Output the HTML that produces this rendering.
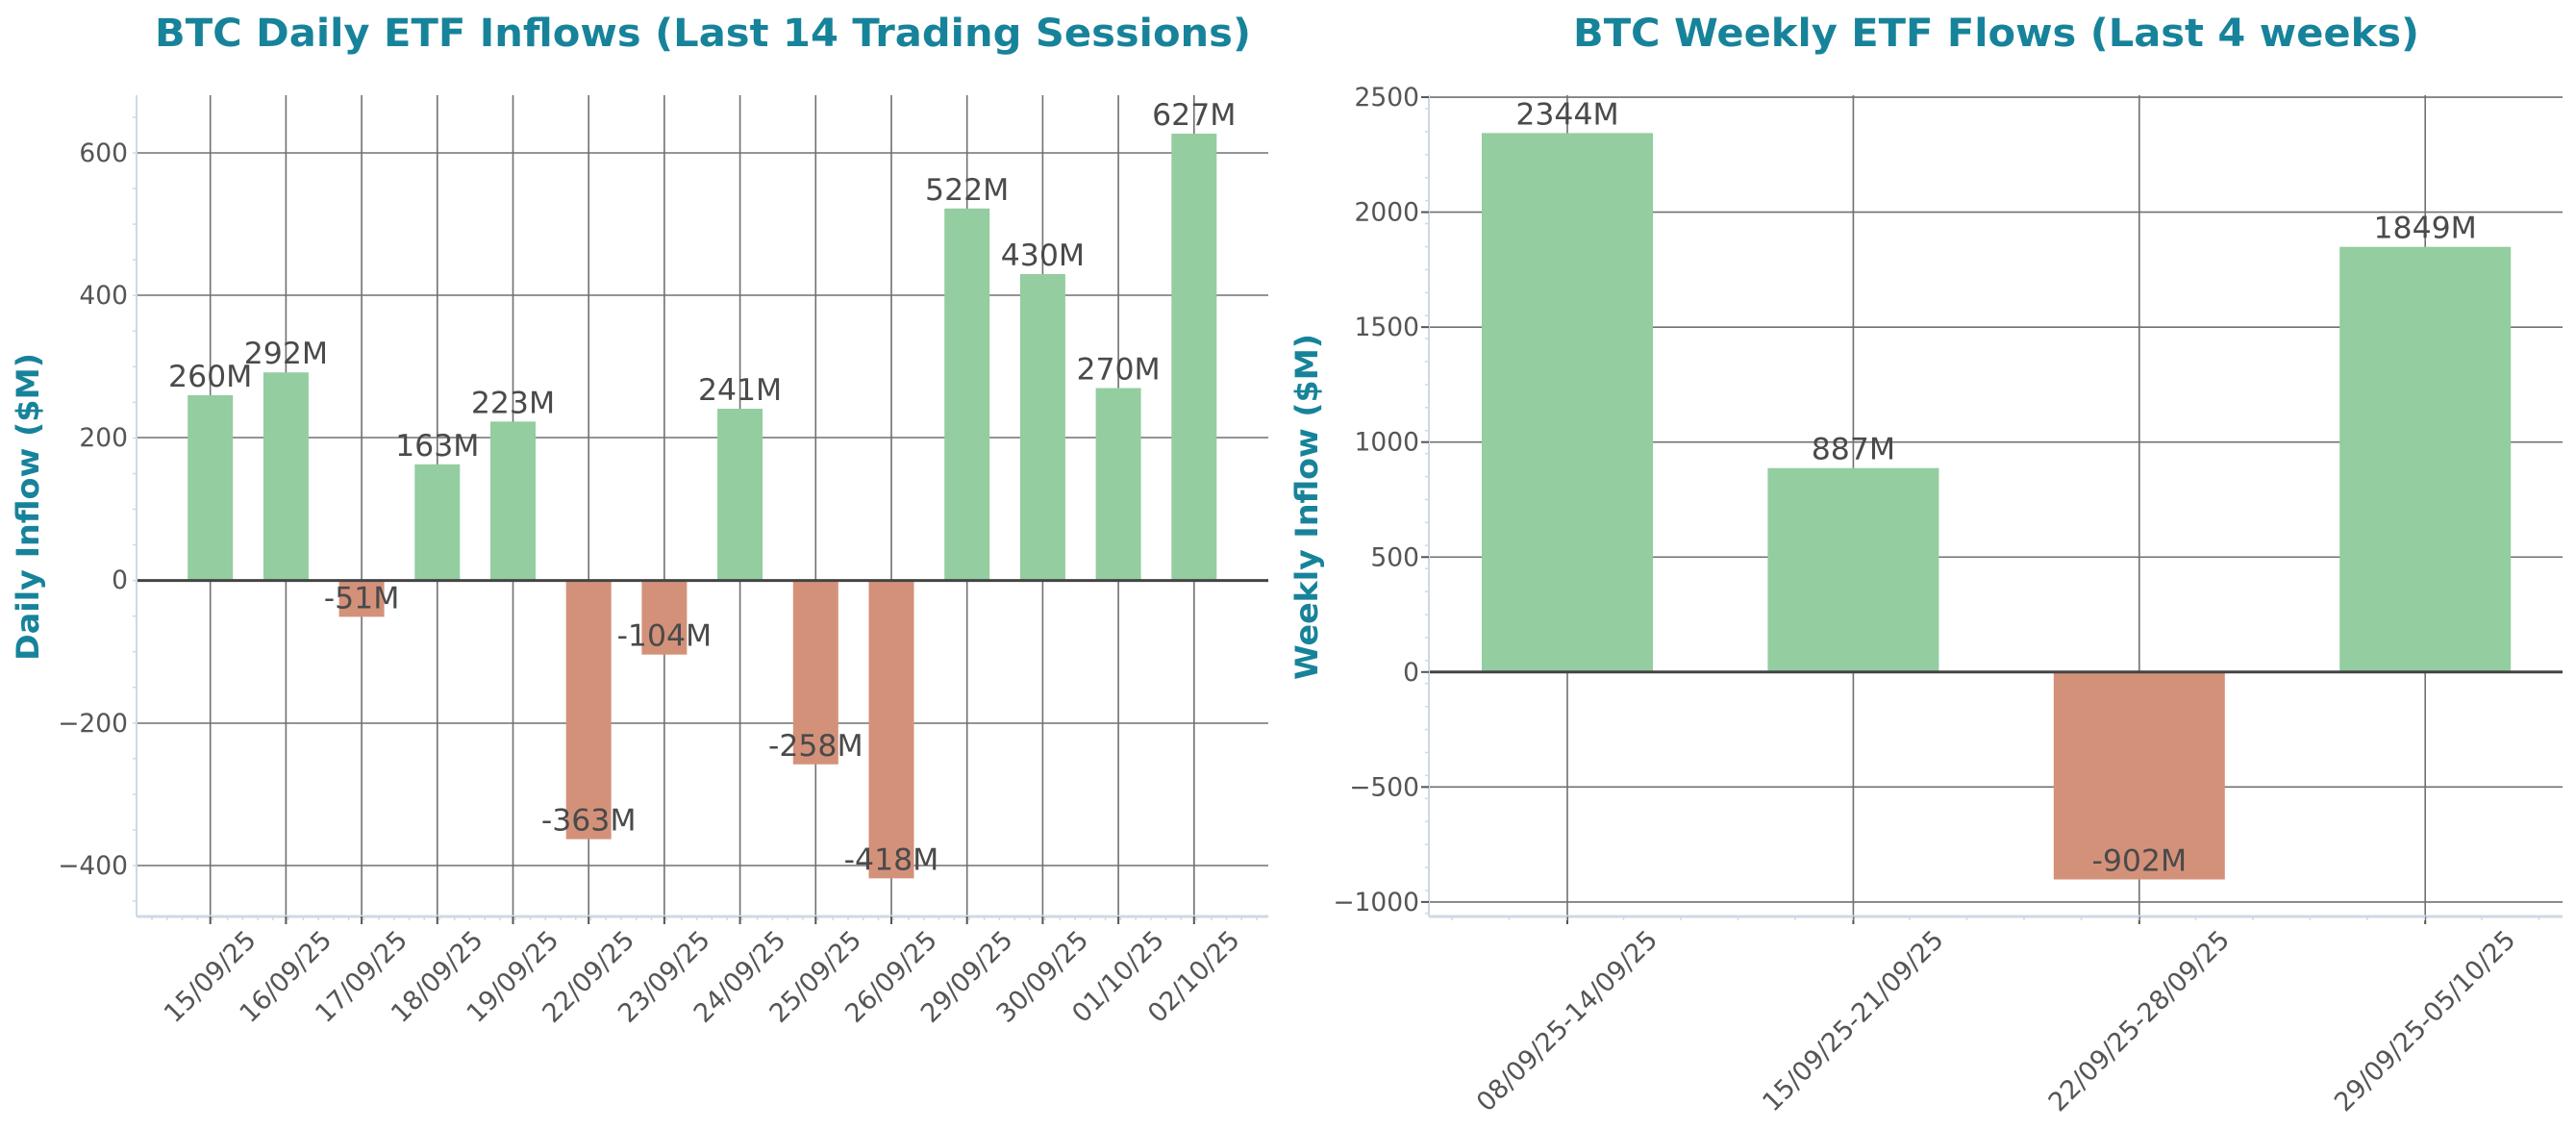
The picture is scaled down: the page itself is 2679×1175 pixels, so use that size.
<!DOCTYPE html>
<html><head><meta charset="utf-8"><style>
html,body{margin:0;padding:0;background:#fff;}
svg{display:block;font-family:"DejaVu Sans","Liberation Sans",sans-serif;}
</style></head><body>
<svg width="2679" height="1175" viewBox="0 0 2679 1175" xmlns="http://www.w3.org/2000/svg">
<!-- LEFT CHART -->
<text x="731" y="48" text-anchor="middle" font-size="40" font-weight="bold" fill="#17839a" textLength="1140" lengthAdjust="spacingAndGlyphs">BTC Daily ETF Inflows (Last 14 Trading Sessions)</text>
<text transform="translate(40,527) rotate(-90)" text-anchor="middle" font-size="32" font-weight="bold" fill="#17839a" textLength="320" lengthAdjust="spacingAndGlyphs">Daily Inflow ($M)</text>
<g stroke="#707070" stroke-width="1.6">
<line x1="142" x2="1319" y1="159" y2="159"/><line x1="142" x2="1319" y1="307" y2="307"/><line x1="142" x2="1319" y1="455" y2="455"/>
<line x1="142" x2="1319" y1="752" y2="752"/><line x1="142" x2="1319" y1="900" y2="900"/>
</g>
<g id="lv" stroke="#707070" stroke-width="1.6"></g>
<g font-size="26.5" fill="#555" text-anchor="end">
<text x="133" y="168">600</text><text x="133" y="316">400</text><text x="133" y="464">200</text><text x="133" y="612">0</text>
<text x="133" y="761">−200</text><text x="133" y="909">−400</text>
</g>
<g id="lb"></g>
<line x1="142" x2="1319" y1="603.6" y2="603.6" stroke="#444" stroke-width="3"/>
<line x1="142" x2="142" y1="99" y2="953" stroke="#d0d8e6" stroke-width="2"/>
<line x1="142" x2="1319" y1="953" y2="953" stroke="#d0d8e6" stroke-width="3"/>
<g id="lt"></g>

<!-- RIGHT CHART -->
<text x="2076" y="48" text-anchor="middle" font-size="40" font-weight="bold" fill="#17839a" textLength="880" lengthAdjust="spacingAndGlyphs">BTC Weekly ETF Flows (Last 4 weeks)</text>
<text transform="translate(1370,527) rotate(-90)" text-anchor="middle" font-size="32" font-weight="bold" fill="#17839a" textLength="360" lengthAdjust="spacingAndGlyphs">Weekly Inflow ($M)</text>
<g id="rg" stroke="#707070" stroke-width="1.6"></g>
<g id="rb"></g>
<line x1="1486" x2="2665" y1="698.8" y2="698.8" stroke="#444" stroke-width="3"/>
<line x1="1486" x2="1486" y1="99" y2="953" stroke="#d0d8e6" stroke-width="2"/>
<line x1="1486" x2="2665" y1="953" y2="953" stroke="#d0d8e6" stroke-width="3"/>
<g id="rt"></g>
</svg>
<script>
var NS="http://www.w3.org/2000/svg";
function el(p,t,a,txt){var e=document.createElementNS(NS,t);for(var k in a)e.setAttribute(k,a[k]);if(txt!=null)e.textContent=txt;document.getElementById(p).appendChild(e);return e;}
var G="#93cda0",R="#d4917a";
var lv=[260,292,-51,163,223,-363,-104,241,-258,-418,522,430,270,627];
var ld=["15/09/25","16/09/25","17/09/25","18/09/25","19/09/25","22/09/25","23/09/25","24/09/25","25/09/25","26/09/25","29/09/25","30/09/25","01/10/25","02/10/25"];
var z=603.6,s=0.741,sp=78.7,x0=218.7,bw=47;
for(var i=0;i<14;i++){var x=x0+i*sp,v=lv[i],y=z-v*s;
el("lv","line",{x1:x,x2:x,y1:99,y2:953});
el("lb","rect",{x:x-bw/2,y:Math.min(y,z),width:bw,height:Math.abs(v*s),fill:v>=0?G:R});
el("lb","text",{x:x,y:y-9,"text-anchor":"middle","font-size":"31.5",fill:"#4a4a4a"},v+"M");
el("lt","line",{x1:x,x2:x,y1:953,y2:961,stroke:"#555","stroke-width":2});
el("lt","text",{transform:"translate("+x+",1016) rotate(-45)","text-anchor":"middle","dominant-baseline":"central","font-size":"27",fill:"#555"},ld[i]);}
for(var m=158;m<1319;m+=15.74){el("lt","line",{x1:m,x2:m,y1:953,y2:957,stroke:"#d0d8e6","stroke-width":1.5});}
for(var t=-450;t<=650;t+=50){var yy=z-t*s;if(yy>99&&yy<953)el("lt","line",{x1:138,x2:142,y1:yy,y2:yy,stroke:"#d0d8e6","stroke-width":1.5});}
var rv=[2344,887,-902,1849];
var rd=["08/09/25-14/09/25","15/09/25-21/09/25","22/09/25-28/09/25","29/09/25-05/10/25"];
var rz=698.8,rs=0.2391,rsp=297.4,rx0=1630,rbw=178;
for(var t=-1000;t<=2500;t+=500){var yy=rz-t*rs;
el("rg","line",{x1:1486,x2:2665,y1:yy,y2:yy});
el("rt","line",{x1:1478,x2:1486,y1:yy,y2:yy,stroke:"#555","stroke-width":2});
el("rt","text",{x:1476,y:yy+9,"text-anchor":"end","font-size":"26.5",fill:"#555"},(t<0?"−"+(-t):t));}
for(var t=-1050;t<=2500;t+=100){var yy=rz-t*rs;if(yy>99&&yy<953)el("rt","line",{x1:1482,x2:1486,y1:yy,y2:yy,stroke:"#d0d8e6","stroke-width":1.5});}
for(var i=0;i<4;i++){var x=rx0+i*rsp,v=rv[i],y=rz-v*rs;
el("rg","line",{x1:x,x2:x,y1:99,y2:953});
el("rb","rect",{x:x-rbw/2,y:Math.min(y,rz),width:rbw,height:Math.abs(v*rs),fill:v>=0?G:R});
el("rb","text",{x:x,y:y-9,"text-anchor":"middle","font-size":"31.5",fill:"#4a4a4a"},v+"M");
el("rt","line",{x1:x,x2:x,y1:953,y2:961,stroke:"#555","stroke-width":2});
el("rt","text",{transform:"translate("+x+",1062) rotate(-45)","text-anchor":"middle","dominant-baseline":"central","font-size":"27",fill:"#555"},rd[i]);}
for(var m=1510;m<2665;m+=59.5){el("rt","line",{x1:m,x2:m,y1:953,y2:957,stroke:"#d0d8e6","stroke-width":1.5});}
</script>
</body></html>
